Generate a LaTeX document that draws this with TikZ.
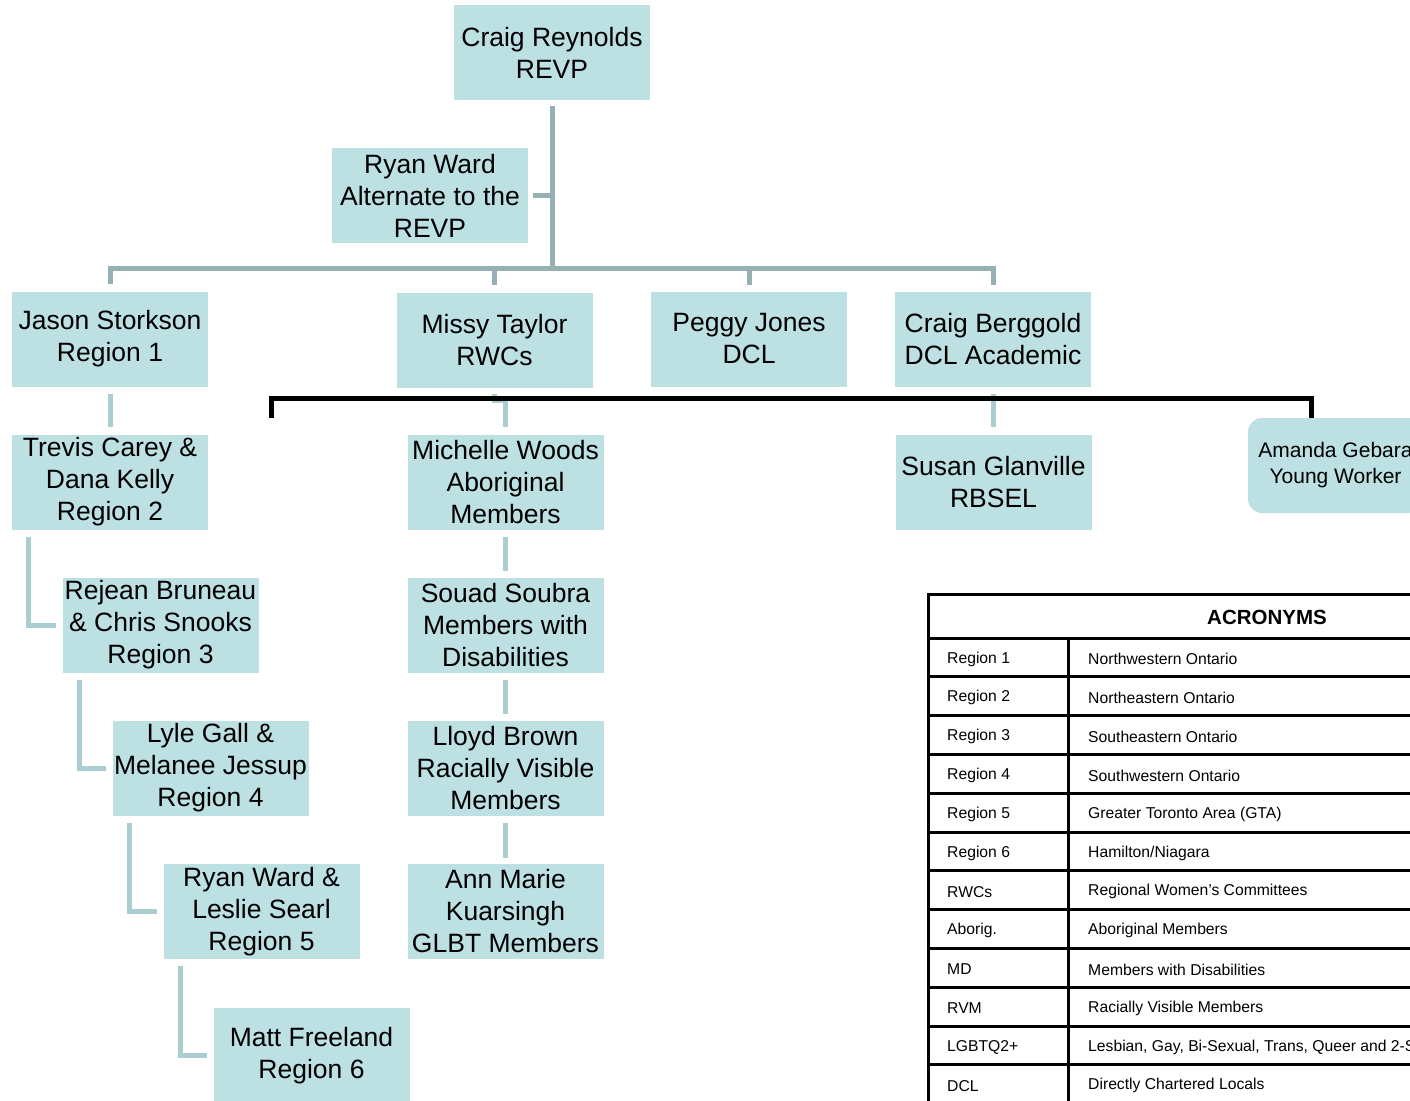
\documentclass[tikz,border=0pt]{standalone}
\usepackage{fontspec}
\setmainfont{Liberation Sans}
\definecolor{boxc}{HTML}{BDE0E3}
\definecolor{connA}{HTML}{96B1B4}
\definecolor{connB}{HTML}{A9CDD1}
\tikzset{
  orgbox/.style={fill=boxc, minimum width=196pt, minimum height=95pt, inner sep=0pt, align=center, font=\fontsize{26.5}{32}\selectfont},
  ywbox/.style={fill=boxc, rounded corners=14pt, minimum width=175pt, minimum height=95pt, inner sep=0pt, align=center, font=\fontsize{21}{26}\selectfont},
  connTop/.style={draw=connA, line width=5pt},
  connLow/.style={draw=connB, line width=5pt},
  bracket/.style={draw=black, line width=5pt},
  tbl/.style={draw=black, line width=3pt},
  tabtxt/.style={anchor=west, inner sep=0pt, font=\fontsize{15.7}{18}\selectfont}
}
\begin{document}
\begin{tikzpicture}[x=1pt,y=-1pt]
\path[use as bounding box] (0,0) rectangle (1410,1100);
\fill[white] (0,0) rectangle (1410,1100);
\clip (0,0) rectangle (1410,1100);

% boxes
\node[orgbox] (CR) at (552,52.5) {Craig Reynolds\\REVP};
\node[orgbox] (RW) at (430,195.5) {Ryan Ward\\Alternate to the\\REVP};
\node[orgbox] (J1) at (110,339) {Jason Storkson\\Region 1};
\node[orgbox] (MT) at (494.5,340) {Missy Taylor\\RWCs};
\node[orgbox] (PJ) at (749,339) {Peggy Jones\\DCL};
\node[orgbox] (CB) at (993,339) {Craig Berggold\\DCL Academic};
\node[orgbox] (T2) at (110,482) {Trevis Carey \&\\Dana Kelly\\Region 2};
\node[orgbox] (R3) at (160.5,625) {Rejean Bruneau\\\& Chris Snooks\\Region 3};
\node[orgbox] (L4) at (210.5,768) {Lyle Gall \&\\Melanee Jessup\\Region 4};
\node[orgbox] (R5) at (261.5,911.5) {Ryan Ward \&\\Leslie Searl\\Region 5};
\node[orgbox] (M6) at (311.5,1055.5) {Matt Freeland\\Region 6};
\node[orgbox] (MW) at (505.5,482) {Michelle Woods\\Aboriginal\\Members};
\node[orgbox] (SS) at (505.5,625) {Souad Soubra\\Members with\\Disabilities};
\node[orgbox] (LB) at (505.5,768) {Lloyd Brown\\Racially Visible\\Members};
\node[orgbox] (AM) at (505.5,911.5) {Ann Marie\\Kuarsingh\\GLBT Members};
\node[orgbox] (SG) at (993.5,482) {Susan Glanville\\RBSEL};
\node[ywbox] (AG) at (1335.5,465.5) {Amanda Gebara\\Young Worker};

% top connectors
\coordinate (bus) at (552,268);
\draw[connTop, shorten <=6pt] (CR.south) -- (bus);
\draw[connTop, shorten <=5pt] (RW.east) -- (RW.east -| bus);
\draw[connTop, shorten >=7pt] (bus) -| (J1.north);
\draw[connTop, shorten >=7pt] (bus) -| (MT.north);
\draw[connTop, shorten >=6pt] (bus) -| (PJ.north);
\draw[connTop, shorten >=6pt] (bus) -| (CB.north);

% lower connectors
\draw[connLow, shorten <=7pt, shorten >=7pt] (J1.south) -- (T2.north);
\draw[connLow, shorten <=6pt, shorten >=7pt] (MT.south) -- ++(0,13) -| (MW.north);
\draw[connLow, shorten <=7pt, shorten >=7pt] (CB.south) -- (CB.south |- SG.north);
\draw[connLow, shorten <=7pt, shorten >=6pt] (MW.south) -- (SS.north);
\draw[connLow, shorten <=7pt, shorten >=6pt] (SS.south) -- (LB.north);
\draw[connLow, shorten <=7pt, shorten >=6pt] (LB.south) -- (AM.north);
\draw[connLow] ([xshift=17pt,yshift=-7pt]T2.south west) |- ([xshift=-6pt]R3.west);
\draw[connLow] ([xshift=17pt,yshift=-7pt]R3.south west) |- ([xshift=-6pt]L4.west);
\draw[connLow] ([xshift=17pt,yshift=-7pt]L4.south west) |- ([xshift=-6pt]R5.west);
\draw[connLow] ([xshift=17pt,yshift=-7pt]R5.south west) |- ([xshift=-6pt]M6.west);

% black bracket
\coordinate (bl) at (271,418);
\coordinate (br) at (1311,398);
\draw[bracket] (bl) |- (br) -- (br |- AG.north);

% acronym table
\draw[tbl] (928,594) rectangle (1606,1120);
\draw[tbl] (928,638) -- (1606,638);
\foreach \i in {1,...,12} {\draw[tbl] (928,{638+38.8*\i}) -- (1606,{638+38.8*\i});}
\draw[tbl] (1068,638) -- (1068,1120);
\node[font=\bfseries\fontsize{20.5}{24}\selectfont] (hdr) at (1267,617.5) {ACRONYMS};
\foreach \a/\b [count=\i from 0] in {
  Region 1/Northwestern Ontario,
  Region 2/Northeastern Ontario,
  Region 3/Southeastern Ontario,
  Region 4/Southwestern Ontario,
  Region 5/Greater Toronto Area (GTA),
  Region 6/Hamilton\slash Niagara,
  RWCs/Regional Women’s Committees,
  Aborig./Aboriginal Members,
  MD/Members with Disabilities,
  RVM/Racially Visible Members,
  LGBTQ2+/{Lesbian, Gay, Bi-Sexual, Trans, Queer and 2-Spirited},
  DCL/Directly Chartered Locals} {
  \node[tabtxt] (ta\i) at (947,{659+38.8*\i}) {\a};
  \node[tabtxt] (tb\i) at (1088,{659+38.8*\i}) {\b};
}
\end{tikzpicture}
\end{document}
